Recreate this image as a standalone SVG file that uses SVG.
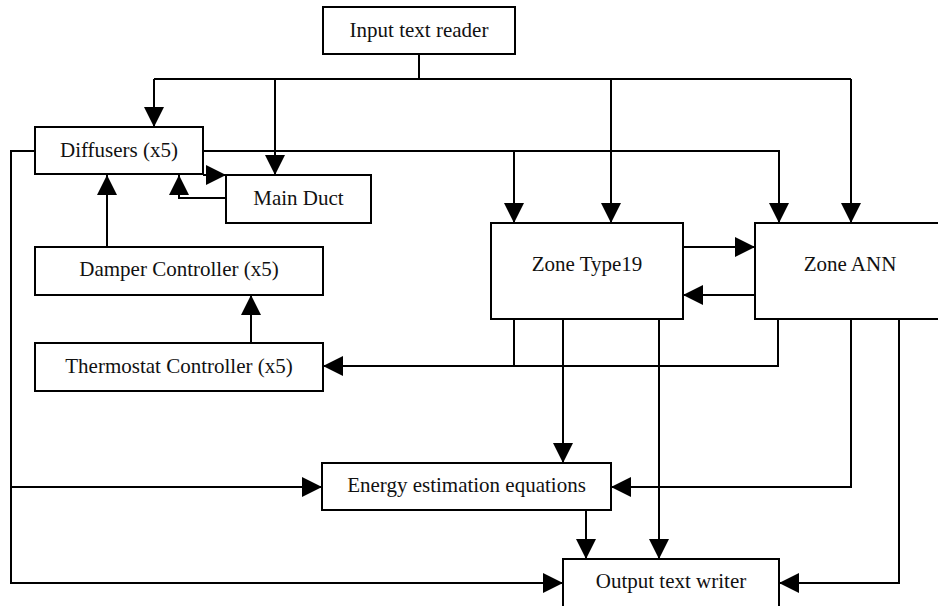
<svg xmlns="http://www.w3.org/2000/svg" width="938" height="606" viewBox="0 0 938 606">
<defs>
<marker id="arr" markerUnits="userSpaceOnUse" markerWidth="20" markerHeight="20" refX="20" refY="10" orient="auto">
<path d="M0,0 L20,10 L0,20 z" fill="#000"/>
</marker>
<style>
.box{fill:#fff;stroke:#000;stroke-width:2}
.lbl{font-family:"Liberation Serif","Times New Roman",serif;font-size:21px;fill:#111;text-anchor:middle}
.c{fill:none;stroke:#000;stroke-width:2}
.a{marker-end:url(#arr)}
</style>
</defs>
<rect width="938" height="606" fill="#fff"/>
<g id="connectors">
<path class="c" d="M419,54 V79 M154,79 H851"/>
<path class="c a" d="M154,79 V127"/>
<path class="c a" d="M275,79 V175"/>
<path class="c a" d="M611,79 V223"/>
<path class="c a" d="M851,79 V223"/>
<path class="c a" d="M203,151 H779 V223"/>
<path class="c a" d="M514,151 V223"/>
<path class="c a" d="M203,175 H226"/>
<path class="c a" d="M226,198 H179 V175"/>
<path class="c a" d="M107,247 V175"/>
<path class="c a" d="M251,343 V295"/>
<path class="c a" d="M683,247 H755"/>
<path class="c a" d="M755,295 H683"/>
<path class="c" d="M514,319 V366"/>
<path class="c a" d="M778,319 V366 H323"/>
<path class="c a" d="M563,319 V463"/>
<path class="c a" d="M659,319 V559"/>
<path class="c a" d="M851,319 V487 H611"/>
<path class="c a" d="M899,319 V583 H779"/>
<path class="c a" d="M586,510 V559"/>
<path class="c a" d="M35,151 H11 V583 H563"/>
<path class="c a" d="M11,487 H322"/>
</g>
<g id="input-reader"><rect class="box" x="323" y="7" width="192" height="47"/><text class="lbl" x="419" y="37">Input text reader</text></g>
<g id="diffusers"><rect class="box" x="35" y="127" width="168" height="47"/><text class="lbl" x="119" y="157">Diffusers (x5)</text></g>
<g id="main-duct"><rect class="box" x="226" y="175" width="145" height="48"/><text class="lbl" x="298.5" y="205">Main Duct</text></g>
<g id="damper"><rect class="box" x="35" y="247" width="288" height="48"/><text class="lbl" x="179" y="276">Damper Controller (x5)</text></g>
<g id="thermostat"><rect class="box" x="35" y="343" width="288" height="48"/><text class="lbl" x="179" y="373">Thermostat Controller (x5)</text></g>
<g id="zone-type19"><rect class="box" x="491" y="223" width="192" height="96"/><text class="lbl" x="587" y="271">Zone Type19</text></g>
<g id="zone-ann"><rect class="box" x="755" y="223" width="191" height="96"/><text class="lbl" x="850" y="271">Zone ANN</text></g>
<g id="energy"><rect class="box" x="322" y="463" width="289" height="47"/><text class="lbl" x="466.5" y="492">Energy estimation equations</text></g>
<g id="output-writer"><rect class="box" x="563" y="559" width="216" height="49"/><text class="lbl" x="671" y="588">Output text writer</text></g>
</svg>
